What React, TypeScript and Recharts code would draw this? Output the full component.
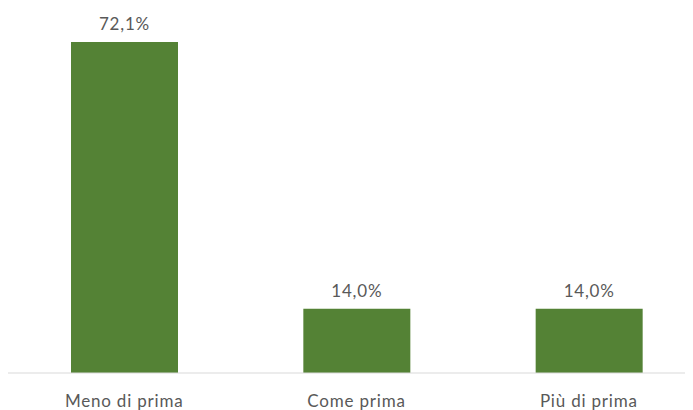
import { BarChart, Bar, XAxis, YAxis, LabelList } from "recharts";

const categories = ["Meno di prima", "Come prima", "Più di prima"];
const values = [72.1, 14.0, 14.0];

const data = categories.map((name, i) => ({ name, value: values[i] }));

const fmt = (v: number) => `${v.toFixed(1).replace(".", ",")}%`;

const textStyle = { fill: "#595959", fontSize: 17, fontFamily: "Lato", letterSpacing: 0.8 };

export default function App() {
  return (
    <div style={{ width: 685, height: 402, overflow: "hidden" }}>
      <BarChart
        width={697}
        height={402}
        data={data}
        margin={{ top: 34, right: 0, left: 0, bottom: 0 }}
        barSize={107}
      >
        <XAxis
          dataKey="name"
          height={37}
          tickLine={false}
          tickSize={0}
          tickMargin={22}
          stroke="#d9d9d9"
          tick={textStyle}
        />
        <YAxis hide domain={[0, 72.1]} />
        <Bar dataKey="value" fill="#548235" isAnimationActive={false}>
          <LabelList
            dataKey="value"
            position="top"
            offset={12}
            formatter={(v: any) => fmt(Number(v))}
            style={textStyle}
          />
        </Bar>
      </BarChart>
    </div>
  );
}
